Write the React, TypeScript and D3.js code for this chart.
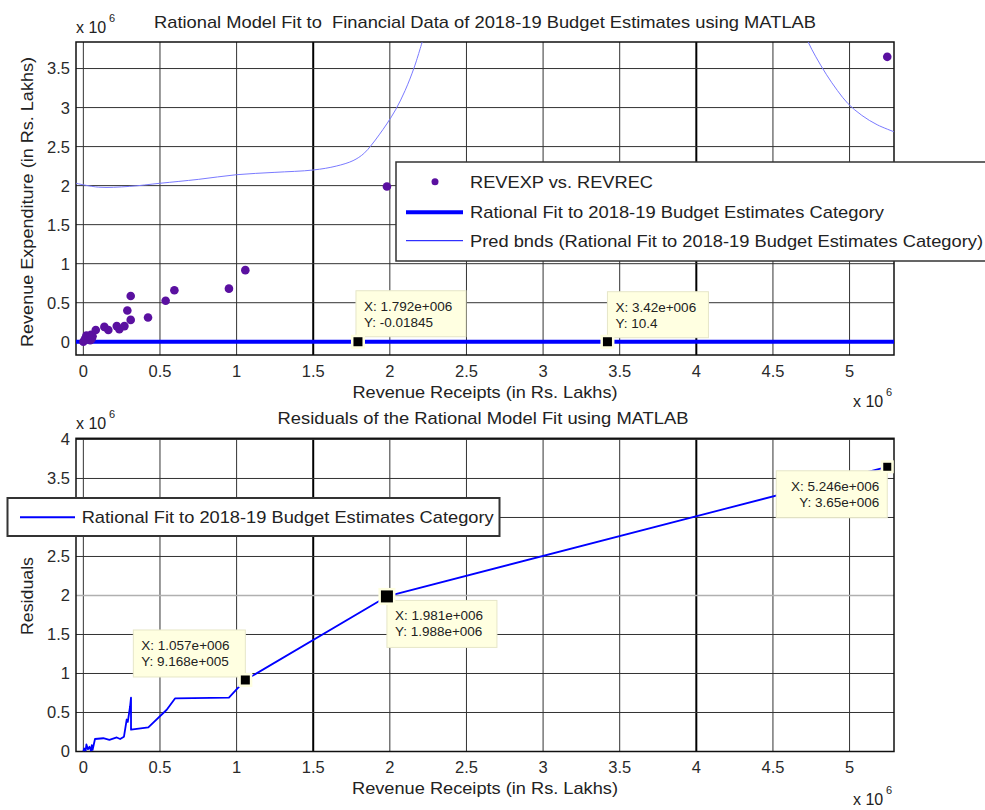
import React from 'react';
import * as d3 from 'd3';

// ---------- data (values in units of 1e6 Rs. Lakhs) ----------
const xTicks = [0, 0.5, 1, 1.5, 2, 2.5, 3, 3.5, 4, 4.5, 5];
const topYTicks = [0, 0.5, 1, 1.5, 2, 2.5, 3, 3.5];
const botYTicks = [0, 0.5, 1, 1.5, 2, 2.5, 3, 3.5, 4];

const scatterX = [0, 0.01, 0.02, 0.035, 0.045, 0.05, 0.055, 0.06, 0.081, 0.137, 0.163, 0.218, 0.235, 0.268, 0.287, 0.309, 0.309, 0.422, 0.537, 0.594, 0.95, 1.057, 1.981, 5.246];
const scatterY = [0, 0.03, 0.08, 0.05, 0.02, 0.09, 0.04, 0.07, 0.15, 0.19, 0.15, 0.2, 0.16, 0.2, 0.4, 0.28, 0.585, 0.31, 0.525, 0.66, 0.68, 0.917, 1.988, 3.65];

const fitX = [-0.048, 1.792, 3.42, 5.29];
const fitY = [0, -0.01845e-6, 10.4e-6, 0];

const boundLeftX = [-0.048, 0.1, 0.3, 0.5, 0.75, 1.0, 1.25, 1.5, 1.65, 1.76, 1.83, 1.88, 1.93, 1.98, 2.04, 2.1, 2.16, 2.22];
const boundLeftY = [2.03, 1.98, 1.99, 2.03, 2.08, 2.14, 2.17, 2.2, 2.25, 2.32, 2.41, 2.52, 2.65, 2.79, 2.98, 3.22, 3.52, 3.9];
const boundRightX = [4.7, 4.73, 4.78, 4.85, 4.92, 4.99, 5.08, 5.18, 5.29];
const boundRightY = [4.0, 3.84, 3.65, 3.42, 3.22, 3.05, 2.9, 2.78, 2.69];

const residX = [0, 0.005, 0.015, 0.02, 0.03, 0.04, 0.05, 0.055, 0.06, 0.076, 0.13, 0.17, 0.218, 0.24, 0.265, 0.283, 0.29, 0.305, 0.311, 0.311, 0.424, 0.544, 0.598, 0.95, 1.057, 1.981, 5.246];
const residY = [0, 0.04, 0.01, 0.09, 0.03, 0.06, 0.01, 0.08, 0.02, 0.16, 0.17, 0.15, 0.18, 0.16, 0.19, 0.41, 0.38, 0.58, 0.69, 0.28, 0.31, 0.535, 0.68, 0.69, 0.917, 1.988, 3.65];

const topTipX = [1.792, 3.42];
const topTipY = [-0.01845e-6, 10.4e-6];
const topTipLabels = [['X: 1.792e+006', 'Y: -0.01845'], ['X: 3.42e+006', 'Y: 10.4']];

const botTipX = [1.057, 1.981, 5.246];
const botTipY = [0.9168, 1.988, 3.65];
const botTipLabels = [['X: 1.057e+006', 'Y: 9.168e+005'], ['X: 1.981e+006', 'Y: 1.988e+006'], ['X: 5.246e+006', 'Y: 3.65e+006']];

const heavyXGrid = [1.5, 4];

const FONT = '"Liberation Sans", Arial, Helvetica, sans-serif';
const TXT = '#222';
const SCAT = '#5a10a0';
const BLUE = '#0000ff';
const TIPBG = '#ffffe1';

const L = 76, R = 894;
const x = d3.scaleLinear().domain([-0.048, 5.29]).range([L, R]);
const yTop = d3.scaleLinear().domain([-0.17, 3.84]).range([355, 42]);
const yBot = d3.scaleLinear().domain([0, 4.015]).range([751.5, 438.3]);

function Grid({ y, yTicks, top, bottom, lightY }: any) {
  return (
    <g>
      {xTicks.map((t) => (
        <line key={'vx' + t} x1={x(t)} x2={x(t)} y1={top} y2={bottom}
          stroke={heavyXGrid.includes(t) ? '#000' : '#333'}
          strokeWidth={heavyXGrid.includes(t) ? 2 : 1} />
      ))}
      {yTicks.map((t: number) => (
        <line key={'hy' + t} x1={L} x2={R} y1={y(t)} y2={y(t)}
          stroke={lightY === t ? '#b0b0b0' : '#333'} strokeWidth={lightY === t ? 1.5 : 1} />
      ))}
    </g>
  );
}

function Ticks({ y, yTicks, labelBaseline }: any) {
  return (
    <g fontFamily={FONT} fontSize={16.5} fill="#2a2a2a">
      {xTicks.map((t) => (
        <text key={'xl' + t} x={x(t)} y={labelBaseline} textAnchor="middle">{String(t)}</text>
      ))}
      {yTicks.map((t: number) => (
        <text key={'yl' + t} x={70} y={y(t)} dy="0.36em" textAnchor="end">{String(t)}</text>
      ))}
    </g>
  );
}

function Exp({ xPos, base }: { xPos: number; base: number }) {
  return (
    <g fontFamily={FONT} fill={TXT}>
      <text x={xPos} y={base} fontSize={16}>x 10</text>
      <text x={xPos + 33} y={base - 11} fontSize={11}>6</text>
    </g>
  );
}

function Marker({ cx, cy, s }: { cx: number; cy: number; s: number }) {
  const h = s + 5;
  return (
    <g>
      <rect x={cx - h / 2} y={cy - h / 2} width={h} height={h} fill={TIPBG} />
      <rect x={cx - s / 2} y={cy - s / 2} width={s} height={s} fill="#000" />
    </g>
  );
}

function TipBox({ bx, by, w, h, lines, anchor }: any) {
  const tx = anchor === 'end' ? bx + w - 8 : bx + 8;
  return (
    <g>
      <rect x={bx} y={by} width={w} height={h} fill={TIPBG} stroke="#e6e6c8" strokeWidth={1} />
      <text x={tx} y={by + 20} fontFamily={FONT} fontSize={13.5} fill={TXT} textAnchor={anchor}>{lines[0]}</text>
      <text x={tx} y={by + 36} fontFamily={FONT} fontSize={13.5} fill={TXT} textAnchor={anchor}>{lines[1]}</text>
    </g>
  );
}

export default function App() {
  const fitLine = d3.line<number>().x((_, i) => x(fitX[i])).y((_, i) => yTop(fitY[i]))(fitX.map((_, i) => i)) || '';
  const bL = d3.line<number>().x((_, i) => x(boundLeftX[i])).y((_, i) => yTop(boundLeftY[i])).curve(d3.curveCatmullRom)(boundLeftX.map((_, i) => i)) || '';
  const bR = d3.line<number>().x((_, i) => x(boundRightX[i])).y((_, i) => yTop(boundRightY[i])).curve(d3.curveCatmullRom)(boundRightX.map((_, i) => i)) || '';
  const resLine = d3.line<number>().x((_, i) => x(residX[i])).y((_, i) => yBot(residY[i]))(residX.map((_, i) => i)) || '';

  const topTipGeo = [
    { dx: -2, dy: -51, w: 110, h: 46, anchor: 'start' },
    { dx: 0, dy: -50, w: 101, h: 46, anchor: 'start' },
  ];
  const botTipGeo = [
    { dx: -112, dy: -50, w: 112, h: 47, anchor: 'start', s: 9 },
    { dx: 0, dy: 4, w: 110, h: 47, anchor: 'start', s: 12 },
    { dx: -111, dy: 4, w: 111, h: 47, anchor: 'end', s: 8 },
  ];

  return (
    <svg width={985} height={810} style={{ position: 'absolute', left: 0, top: 0, background: '#fff' }}>
      <defs>
        <clipPath id="clipTop"><rect x={L} y={42} width={R - L} height={313} /></clipPath>
        <clipPath id="clipBot"><rect x={L} y={438.3} width={R - L} height={313.2} /></clipPath>
      </defs>
      <rect x={0} y={0} width={985} height={810} fill="#fff" />

      {/* ---------- TOP PLOT ---------- */}
      <Grid y={yTop} yTicks={topYTicks} top={42} bottom={355} lightY={null} />
      <rect x={L} y={42} width={R - L} height={313} fill="none" stroke="#111" strokeWidth={1.5} />
      <g clipPath="url(#clipTop)">
        <path d={bL} fill="none" stroke="#7a7aff" strokeWidth={1} />
        <path d={bR} fill="none" stroke="#7a7aff" strokeWidth={1} />
        <path d={fitLine} fill="none" stroke={BLUE} strokeWidth={4} />
        {scatterX.map((v, i) => (
          <circle key={'s' + i} cx={x(v)} cy={yTop(scatterY[i])} r={4.3} fill={SCAT} />
        ))}
      </g>
      <Ticks y={yTop} yTicks={topYTicks} labelBaseline={377} />
      <text x={485} y={28} textAnchor="middle" fontFamily={FONT} fontSize={17} fill={TXT} textLength={662} lengthAdjust="spacingAndGlyphs" style={{ whiteSpace: 'pre' }}>Rational Model Fit to  Financial Data of 2018-19 Budget Estimates using MATLAB</text>
      <text x={485} y={398} textAnchor="middle" fontFamily={FONT} fontSize={17} fill={TXT} textLength={265} lengthAdjust="spacingAndGlyphs">Revenue Receipts (in Rs. Lakhs)</text>
      <text transform="translate(33,202) rotate(-90)" textAnchor="middle" fontFamily={FONT} fontSize={17} fill={TXT} textLength={290} lengthAdjust="spacingAndGlyphs">Revenue Expenditure (in Rs. Lakhs)</text>
      <Exp xPos={76} base={33} />
      <Exp xPos={853} base={407} />

      {topTipX.map((v, i) => {
        const mx = x(v), my = yTop(topTipY[i]);
        const g = topTipGeo[i];
        return (
          <g key={'tt' + i}>
            <TipBox bx={mx + g.dx} by={my + g.dy} w={g.w} h={g.h} lines={topTipLabels[i]} anchor={g.anchor} />
            <Marker cx={mx} cy={my} s={9} />
          </g>
        );
      })}

      {/* top legend */}
      <g>
        <rect x={396} y={162} width={620} height={99} fill="#fff" stroke="#333" strokeWidth={1.5} />
        <circle cx={435} cy={181.7} r={3.5} fill={SCAT} />
        <text x={470} y={181.7} dy="0.36em" fontFamily={FONT} fontSize={17} fill={TXT} textLength={183} lengthAdjust="spacingAndGlyphs">REVEXP vs. REVREC</text>
        <line x1={406} x2={463} y1={212.3} y2={212.3} stroke={BLUE} strokeWidth={4} />
        <text x={470} y={212.3} dy="0.36em" fontFamily={FONT} fontSize={17} fill={TXT} textLength={414} lengthAdjust="spacingAndGlyphs">Rational Fit to 2018-19 Budget Estimates Category</text>
        <line x1={406} x2={463} y1={240.7} y2={240.7} stroke={BLUE} strokeWidth={1} />
        <text x={470} y={240.7} dy="0.36em" fontFamily={FONT} fontSize={17} fill={TXT} textLength={513} lengthAdjust="spacingAndGlyphs">Pred bnds (Rational Fit to 2018-19 Budget Estimates Category)</text>
      </g>

      {/* ---------- BOTTOM PLOT ---------- */}
      <Grid y={yBot} yTicks={botYTicks} top={438.3} bottom={751.5} lightY={2} />
      <rect x={L} y={438.3} width={R - L} height={313.2} fill="none" stroke="#111" strokeWidth={1.5} />
      <g clipPath="url(#clipBot)">
        <path d={resLine} fill="none" stroke={BLUE} strokeWidth={1.8} strokeLinejoin="round" />
      </g>
      <Ticks y={yBot} yTicks={botYTicks} labelBaseline={773} />
      <text x={483} y={424} textAnchor="middle" fontFamily={FONT} fontSize={17} fill={TXT} textLength={411} lengthAdjust="spacingAndGlyphs">Residuals of the Rational Model Fit using MATLAB</text>
      <text x={485} y={794} textAnchor="middle" fontFamily={FONT} fontSize={17} fill={TXT} textLength={266} lengthAdjust="spacingAndGlyphs">Revenue Receipts (in Rs. Lakhs)</text>
      <text transform="translate(33,596) rotate(-90)" textAnchor="middle" fontFamily={FONT} fontSize={17} fill={TXT} textLength={78} lengthAdjust="spacingAndGlyphs">Residuals</text>
      <Exp xPos={76} base={429} />
      <Exp xPos={853} base={805} />

      {botTipX.map((v, i) => {
        const mx = x(v), my = yBot(botTipY[i]);
        const g = botTipGeo[i];
        return (
          <g key={'bt' + i}>
            <TipBox bx={mx + g.dx} by={my + g.dy} w={g.w} h={g.h} lines={botTipLabels[i]} anchor={g.anchor} />
            <Marker cx={mx} cy={my} s={g.s} />
          </g>
        );
      })}

      {/* bottom legend */}
      <g>
        <rect x={7.5} y={498} width={492} height={38} fill="#fff" stroke="#333" strokeWidth={2} />
        <line x1={20} x2={75} y1={517.3} y2={517.3} stroke={BLUE} strokeWidth={2} />
        <text x={81.7} y={517.3} dy="0.36em" fontFamily={FONT} fontSize={17} fill={TXT} textLength={412} lengthAdjust="spacingAndGlyphs">Rational Fit to 2018-19 Budget Estimates Category</text>
      </g>
    </svg>
  );
}
